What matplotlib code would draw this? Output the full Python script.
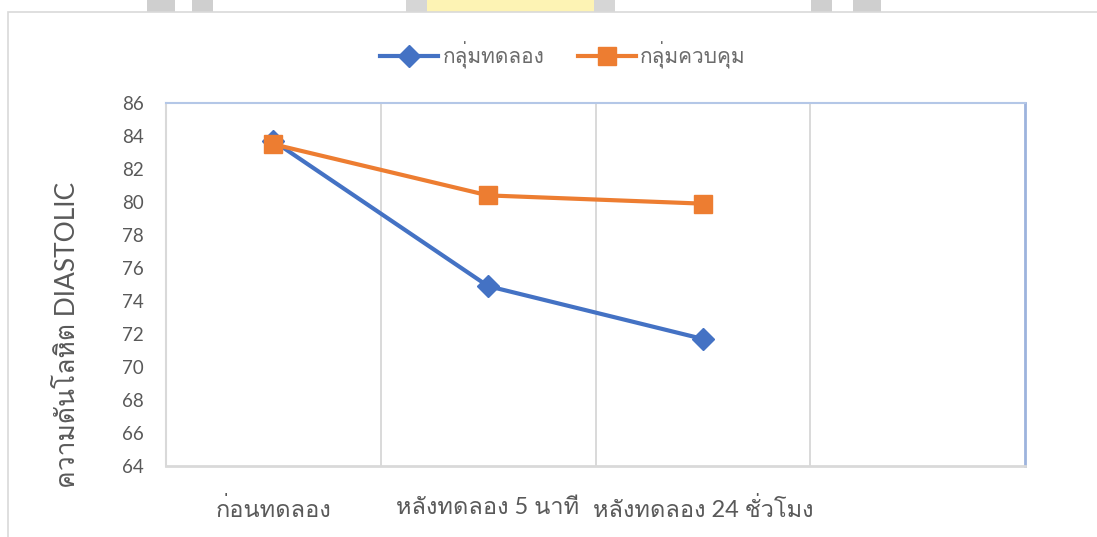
import matplotlib
matplotlib.use("Agg")
import matplotlib.pyplot as plt
from matplotlib import font_manager
from matplotlib.ft2font import FT2Font
from matplotlib.patches import Rectangle

# ข้อมูลความดันโลหิต diastolic เฉลี่ย
stages = ["ก่อนทดลอง", "หลังทดลอง 5 นาที", "หลังทดลอง 24 ชั่วโมง", ""]
experiment = [83.7, 74.9, 71.7]
control = [83.5, 80.4, 79.9]
series_names = ["กลุ่มทดลอง", "กลุ่มควบคุม"]
y_ticks = list(range(64, 87, 2))


def thai_family():
    # หาฟอนต์ที่มีอักษรไทย (ก = U+0E01)
    for f in font_manager.fontManager.ttflist:
        try:
            if 0x0E01 in FT2Font(f.fname).get_charmap():
                return f.name
        except Exception:
            continue
    return "DejaVu Sans"


thai = thai_family()
plt.rcParams["font.family"] = ["Lato", thai, "DejaVu Sans"]

W, H = 1097, 537
fig = plt.figure(figsize=(W / 100, H / 100), dpi=100)
fig.patch.set_facecolor("white")

# ลายน้ำของหน้าเอกสารที่โผล่เหนือกรอบแผนภูมิ
for x0, x1, col in [(147, 175, "#cfcfcf"), (192, 213, "#cfcfcf"),
                    (406, 615, "#fdf3b4"), (406, 427, "#d6d6d6"),
                    (594, 615, "#d6d6d6"), (811, 832, "#cfcfcf"),
                    (853, 881, "#cfcfcf")]:
    fig.patches.append(Rectangle((x0 / W, 1 - 14 / H), (x1 - x0) / W, 14 / H,
                                 transform=fig.transFigure, facecolor=col,
                                 edgecolor="none", zorder=-10))

# พื้นที่แผนภูมิ (กรอบสีเทาอ่อน)
fig.patches.append(Rectangle((8 / W, -0.1), 1.2, 1 - 12 / H + 0.1,
                             transform=fig.transFigure, facecolor="white",
                             edgecolor="#d9d9d9", linewidth=1.2, zorder=-5))

ax = fig.add_axes([166 / W, 1 - 466 / H, (1025 - 166) / W, (466 - 103) / H])
ax.set_zorder(2)

x = range(len(experiment))
ax.plot(x, experiment, color="#4472c4", linewidth=3, marker="D",
        markersize=11, label=series_names[0], zorder=3)
ax.plot(x, control, color="#ed7d31", linewidth=3, marker="s",
        markersize=12.5, label=series_names[1], zorder=4)

ax.set_xlim(-0.5, len(stages) - 0.5)
ax.set_ylim(64, 86)
ax.set_yticks(y_ticks)
ax.set_xticks(range(len(stages)))
ax.set_xticklabels(stages, fontsize=17, color="#595959")
ax.tick_params(axis="y", labelsize=13.5, labelcolor="#595959", length=0, pad=16)
ax.tick_params(axis="x", length=0, pad=22)

# เส้นกริดแนวตั้งระหว่างกลุ่ม
for b in [0.5, 1.5, 2.5]:
    ax.axvline(b, color="#d9d9d9", linewidth=1.4, zorder=1)

ax.spines["top"].set_color("#b4c7e7")
ax.spines["right"].set_color("#9db3dd")
ax.spines["left"].set_color("#d9d9d9")
ax.spines["bottom"].set_color("#d9d9d9")
ax.spines["top"].set_linewidth(1.5)
ax.spines["right"].set_linewidth(2)
ax.spines["left"].set_linewidth(1.5)
ax.spines["bottom"].set_linewidth(2)

ax.set_ylabel("ความดันโลหิต DIASTOLIC", fontsize=19, color="#595959")
ax.yaxis.set_label_coords((80 - 166) / 859, (466 - 335) / 363)

ax.legend(loc="center", bbox_to_anchor=(563 / W, 1 - 55 / H),
          bbox_transform=fig.transFigure, ncol=2, frameon=False,
          fontsize=15, labelcolor="#6b6b6b", handlelength=2.8,
          columnspacing=1.6, handletextpad=0.2)

fig.savefig("out.png", dpi=100)
